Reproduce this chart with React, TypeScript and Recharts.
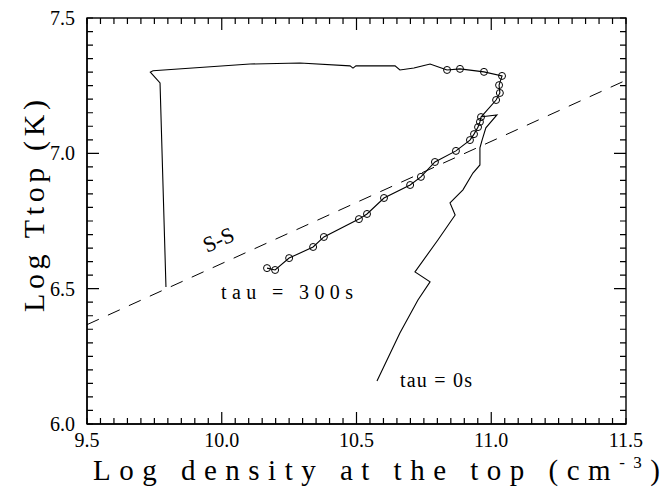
import { ComposedChart, Line, XAxis, YAxis } from "recharts";

// axis ticks
const xLabels = [9.5, 10.0, 10.5, 11.0, 11.5];
const yLabels = [6.0, 6.5, 7.0, 7.5];
const xMajor = [10.0, 10.5, 11.0];
const yMajor = [6.5, 7.0];

const xTicksAll: number[] = [];
for (let i = 0; i <= 40; i++) xTicksAll.push(+(9.5 + i * 0.05).toFixed(2));
const yTicksAll: number[] = [];
for (let i = 0; i <= 30; i++) yTicksAll.push(+(6.0 + i * 0.05).toFixed(2));

// tau = 0s track (no markers), bottom to top
const tau0 = [
  { x: 10.576, y: 6.159 },
  { x: 10.661, y: 6.336 },
  { x: 10.728, y: 6.458 },
  { x: 10.773, y: 6.525 },
  { x: 10.717, y: 6.562 },
  { x: 10.802, y: 6.68 },
  { x: 10.866, y: 6.772 },
  { x: 10.847, y: 6.817 },
  { x: 10.895, y: 6.865 },
  { x: 10.932, y: 6.927 },
  { x: 10.958, y: 6.957 },
  { x: 10.958, y: 7.02 },
  { x: 10.966, y: 7.049 },
  { x: 10.98, y: 7.094 },
  { x: 11.021, y: 7.142 },
  { x: 10.965, y: 7.135 },
];

// top branch and the drop on the left
const loop = [
  { x: 10.836, y: 7.308 },
  { x: 10.773, y: 7.33 },
  { x: 10.713, y: 7.315 },
  { x: 10.661, y: 7.308 },
  { x: 10.643, y: 7.323 },
  { x: 10.498, y: 7.323 },
  { x: 10.487, y: 7.315 },
  { x: 10.476, y: 7.323 },
  { x: 10.29, y: 7.334 },
  { x: 10.105, y: 7.33 },
  { x: 9.745, y: 7.305 },
  { x: 9.735, y: 7.3 },
  { x: 9.771, y: 7.26 },
  { x: 9.793, y: 6.506 },
];

// tau = 300s track (open circles)
const tau300 = [
  { x: 10.168, y: 6.576 },
  { x: 10.198, y: 6.569 },
  { x: 10.25, y: 6.613 },
  { x: 10.339, y: 6.654 },
  { x: 10.379, y: 6.691 },
  { x: 10.509, y: 6.757 },
  { x: 10.539, y: 6.776 },
  { x: 10.602, y: 6.835 },
  { x: 10.699, y: 6.883 },
  { x: 10.739, y: 6.913 },
  { x: 10.791, y: 6.968 },
  { x: 10.869, y: 7.009 },
  { x: 10.921, y: 7.049 },
  { x: 10.936, y: 7.071 },
  { x: 10.951, y: 7.097 },
  { x: 10.958, y: 7.116 },
  { x: 10.962, y: 7.134 },
  { x: 11.018, y: 7.197 },
  { x: 11.032, y: 7.223 },
  { x: 11.029, y: 7.252 },
  { x: 11.04, y: 7.286 },
  { x: 10.973, y: 7.301 },
  { x: 10.884, y: 7.312 },
  { x: 10.836, y: 7.308 },
];

// steady-state (S-S) line
const ssLine = [
  { x: 9.5, y: 6.367 },
  { x: 11.5, y: 7.27 },
];

const FONT = "'Liberation Serif', 'Times New Roman', serif";
const PLOT_W = 539;
const PLOT_H = 406;
const TICK = 6;

// bottom axis tick: inward marks on bottom and top edges, label where listed
const XTick = (props: any) => {
  const v = props.payload.value;
  const x = props.x;
  const y = props.y;
  const len = xMajor.includes(v) ? 2 * TICK : TICK;
  return (
    <g>
      <path
        d={`M${x},${y}L${x},${y - len}M${x},${y - PLOT_H}L${x},${y - PLOT_H + len}`}
        stroke="#000"
        strokeWidth={1.2}
        fill="none"
      />
      {xLabels.includes(v) && (
        <text x={x} y={y + 23} textAnchor="middle" fontFamily={FONT} fontSize={20} fill="#000">
          {v.toFixed(1)}
        </text>
      )}
    </g>
  );
};

// left axis tick: inward marks on left and right edges, label where listed
const YTick = (props: any) => {
  const v = props.payload.value;
  const x = props.x;
  const y = props.y;
  const len = yMajor.includes(v) ? 2 * TICK : TICK;
  return (
    <g>
      <path
        d={`M${x},${y}L${x + len},${y}M${x + PLOT_W},${y}L${x + PLOT_W - len},${y}`}
        stroke="#000"
        strokeWidth={1.2}
        fill="none"
      />
      {yLabels.includes(v) && (
        <text x={x - 12} y={y + 7} textAnchor="end" fontFamily={FONT} fontSize={20} fill="#000">
          {v.toFixed(1)}
        </text>
      )}
    </g>
  );
};

export default function App() {
  return (
    <div style={{ position: "absolute", left: 0, top: 0, background: "#fff" }}>
      <ComposedChart width={666} height={487} margin={{ top: 18, right: 40, bottom: 0, left: 0 }}>
        <XAxis
          dataKey="x"
          type="number"
          domain={[9.5, 11.5]}
          allowDataOverflow
          ticks={xTicksAll}
          interval={0}
          tickSize={0}
          tickMargin={0}
          tickLine={false}
          axisLine={{ stroke: "#000", strokeWidth: 1.4 }}
          tick={XTick}
          height={63}
        />
        <YAxis
          dataKey="y"
          type="number"
          domain={[6, 7.5]}
          allowDataOverflow
          ticks={yTicksAll}
          interval={0}
          tickSize={0}
          tickMargin={0}
          tickLine={false}
          axisLine={{ stroke: "#000", strokeWidth: 1.4 }}
          tick={YTick}
          width={87}
        />

        <Line
          data={ssLine}
          dataKey="y"
          stroke="#000"
          strokeWidth={1}
          strokeDasharray="13 10"
          dot={false}
          isAnimationActive={false}
        />
        <Line data={tau0} dataKey="y" stroke="#000" strokeWidth={1.1} dot={false} isAnimationActive={false} />
        <Line data={loop} dataKey="y" stroke="#000" strokeWidth={1.1} dot={false} isAnimationActive={false} />
        <Line
          data={tau300}
          dataKey="y"
          stroke="#000"
          strokeWidth={1.1}
          dot={{ r: 3.5, fill: "none", stroke: "#000", strokeWidth: 1 }}
          isAnimationActive={false}
        />

        <rect x={87} y={18} width={PLOT_W} height={PLOT_H} fill="none" stroke="#000" strokeWidth={1.4} />

        <text x={93} y={480} fontFamily={FONT} fontSize={29} fill="#000" textLength={567} lengthAdjust="spacing">
          Log density at the top (cm
          <tspan dy={-12} fontSize={17}>-3</tspan>
          <tspan dy={12}>)</tspan>
        </text>
        <text
          x={0}
          y={0}
          transform="translate(44 312) rotate(-90)"
          fontFamily={FONT}
          fontSize={30}
          fill="#000"
          textLength={212}
          lengthAdjust="spacing"
        >
          Log Ttop (K)
        </text>
        <text x={221} y={299} fontFamily={FONT} fontSize={20} fill="#000" textLength={132} lengthAdjust="spacing">
          tau = 300s
        </text>
        <text x={400} y={387} fontFamily={FONT} fontSize={20} fill="#000" textLength={72} lengthAdjust="spacing">
          tau = 0s
        </text>
        <text
          x={0}
          y={0}
          transform="translate(207 253) rotate(-24)"
          fontFamily={FONT}
          fontSize={22}
          fill="#000"
        >
          S-S
        </text>
      </ComposedChart>
    </div>
  );
}
